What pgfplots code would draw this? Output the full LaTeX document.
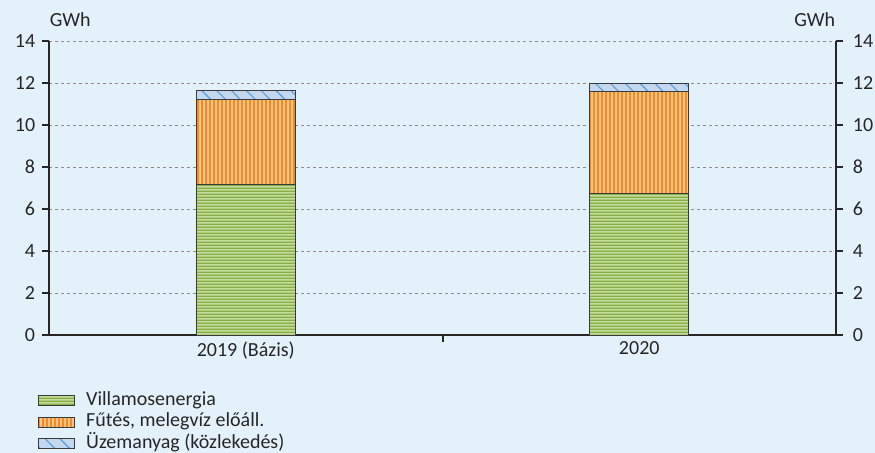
\documentclass[border=0pt]{standalone}
\usepackage{fontspec}
\setmainfont{Carlito}
\usepackage{pgfplots}
\pgfplotsset{compat=1.18}
\usetikzlibrary{patterns,patterns.meta}

\definecolor{bg}{HTML}{E3F1FA}
\definecolor{txt}{HTML}{262626}
\definecolor{axl}{HTML}{262626}
\definecolor{gridc}{HTML}{8C8C8C}
\definecolor{barl}{HTML}{3A3A3A}
\definecolor{grlight}{HTML}{C4DB9F}
\definecolor{grdark}{HTML}{86AE42}
\definecolor{orlight}{HTML}{FCC797}
\definecolor{ordark}{HTML}{F68B1F}
\definecolor{bllight}{HTML}{C3D8EE}
\definecolor{bldark}{HTML}{5B9BD5}

% tiles as large as the page so the stripes show no seams
\pgfdeclarepatternformonly{hstripes}{\pgfpointorigin}{\pgfpoint{880bp}{3bp}}{\pgfpoint{880bp}{3bp}}%
    {\pgfpathrectangle{\pgfpointorigin}{\pgfpoint{880bp}{1.8bp}}\pgfusepath{fill}}
\pgfdeclarepatternformonly{vstripes}{\pgfpointorigin}{\pgfpoint{3.8bp}{460bp}}{\pgfpoint{3.8bp}{460bp}}%
    {\pgfpathrectangle{\pgfpointorigin}{\pgfpoint{2.3bp}{460bp}}\pgfusepath{fill}}

\pgfplotsset{
    lgdbox/.style={legend image code/.code={%
        \draw[##1] (0bp,-5bp) rectangle (36bp,5bp); \path (47bp,0bp);}},
}

\begin{document}
\fontsize{20bp}{24bp}\selectfont
\begin{tikzpicture}
\path[use as bounding box, fill=bg] (0,0) rectangle (875bp,453bp);

% main axis: bars, left scale
\begin{axis}[
    at={(49bp,118bp)}, anchor=south west,
    scale only axis, width=787bp, height=294bp,
    clip=false,
    xmin=-0.5, xmax=1.5, ymin=0, ymax=14,
    ytick={0,2,...,14},
    xtick={0.5}, xticklabels={},
    extra x ticks={0,1},
    extra x tick labels={2019 (Bázis),2020},
    extra x tick style={major tick length=0pt, grid=none},
    axis x line*=bottom, axis y line*=left,
    axis line style={line width=2bp, axl},
    tick align=outside, major tick length=7bp,
    tick style={line width=2bp, axl},
    ymajorgrids,
    grid style={gridc, line width=0.8bp, dash pattern=on 3bp off 3bp},
    tick label style={text=txt, font=\fontsize{20bp}{24bp}\selectfont},
    /pgf/number format/assume math mode=true,
    ybar stacked, bar width=99bp,
    legend style={at={(axis description cs:0,0)}, anchor=north west,
        xshift=-11bp, yshift=-55bp, draw=none, fill=none, inner sep=0pt,
        row sep=0pt, column sep=0pt,
        nodes={inner sep=0pt, text height=14bp, text depth=5bp, inner ysep=1.25bp,
               text=txt, font=\fontsize{20bp}{24bp}\selectfont}},
    legend cell align=left,
]
\addplot[draw=barl, line width=1bp, preaction={fill=grlight},
    pattern=hstripes, pattern color=grdark, lgdbox]
    coordinates {(0,7.16) (1,6.72)};
\addlegendentry{Villamosenergia}
\addplot[draw=barl, line width=1bp, preaction={fill=orlight},
    pattern=vstripes, pattern color=ordark, lgdbox]
    coordinates {(0,4.06) (1,4.89)};
\addlegendentry{Fűtés, melegvíz előáll.}
\addplot[draw=barl, line width=1bp, preaction={fill=bllight},
    pattern={Lines[angle=-45, distance=10.5bp, line width=1.1bp]}, pattern color=bldark,
    lgdbox]
    coordinates {(0,0.44) (1,0.35)};
\addlegendentry{Üzemanyag (közlekedés)}
\node[anchor=base, text=txt, font=\fontsize{20bp}{24bp}\selectfont]
    at ([yshift=14bp]rel axis cs:0.027,1) {GWh};
\node[anchor=base, text=txt, font=\fontsize{20bp}{24bp}\selectfont]
    at ([yshift=14bp]rel axis cs:0.973,1) {GWh};
\end{axis}

% right scale
\begin{axis}[
    at={(49bp,118bp)}, anchor=south west,
    scale only axis, width=787bp, height=294bp,
    xmin=-0.5, xmax=1.5, ymin=0, ymax=14,
    ytick={0,2,...,14},
    axis x line=none, axis y line*=right,
    axis line style={line width=2bp, axl},
    tick align=outside, major tick length=7bp,
    tick style={line width=2bp, axl},
    tick label style={text=txt, font=\fontsize{20bp}{24bp}\selectfont},
    yticklabel style={xshift=3bp},
    /pgf/number format/assume math mode=true,
]
\end{axis}
\end{tikzpicture}
\end{document}
